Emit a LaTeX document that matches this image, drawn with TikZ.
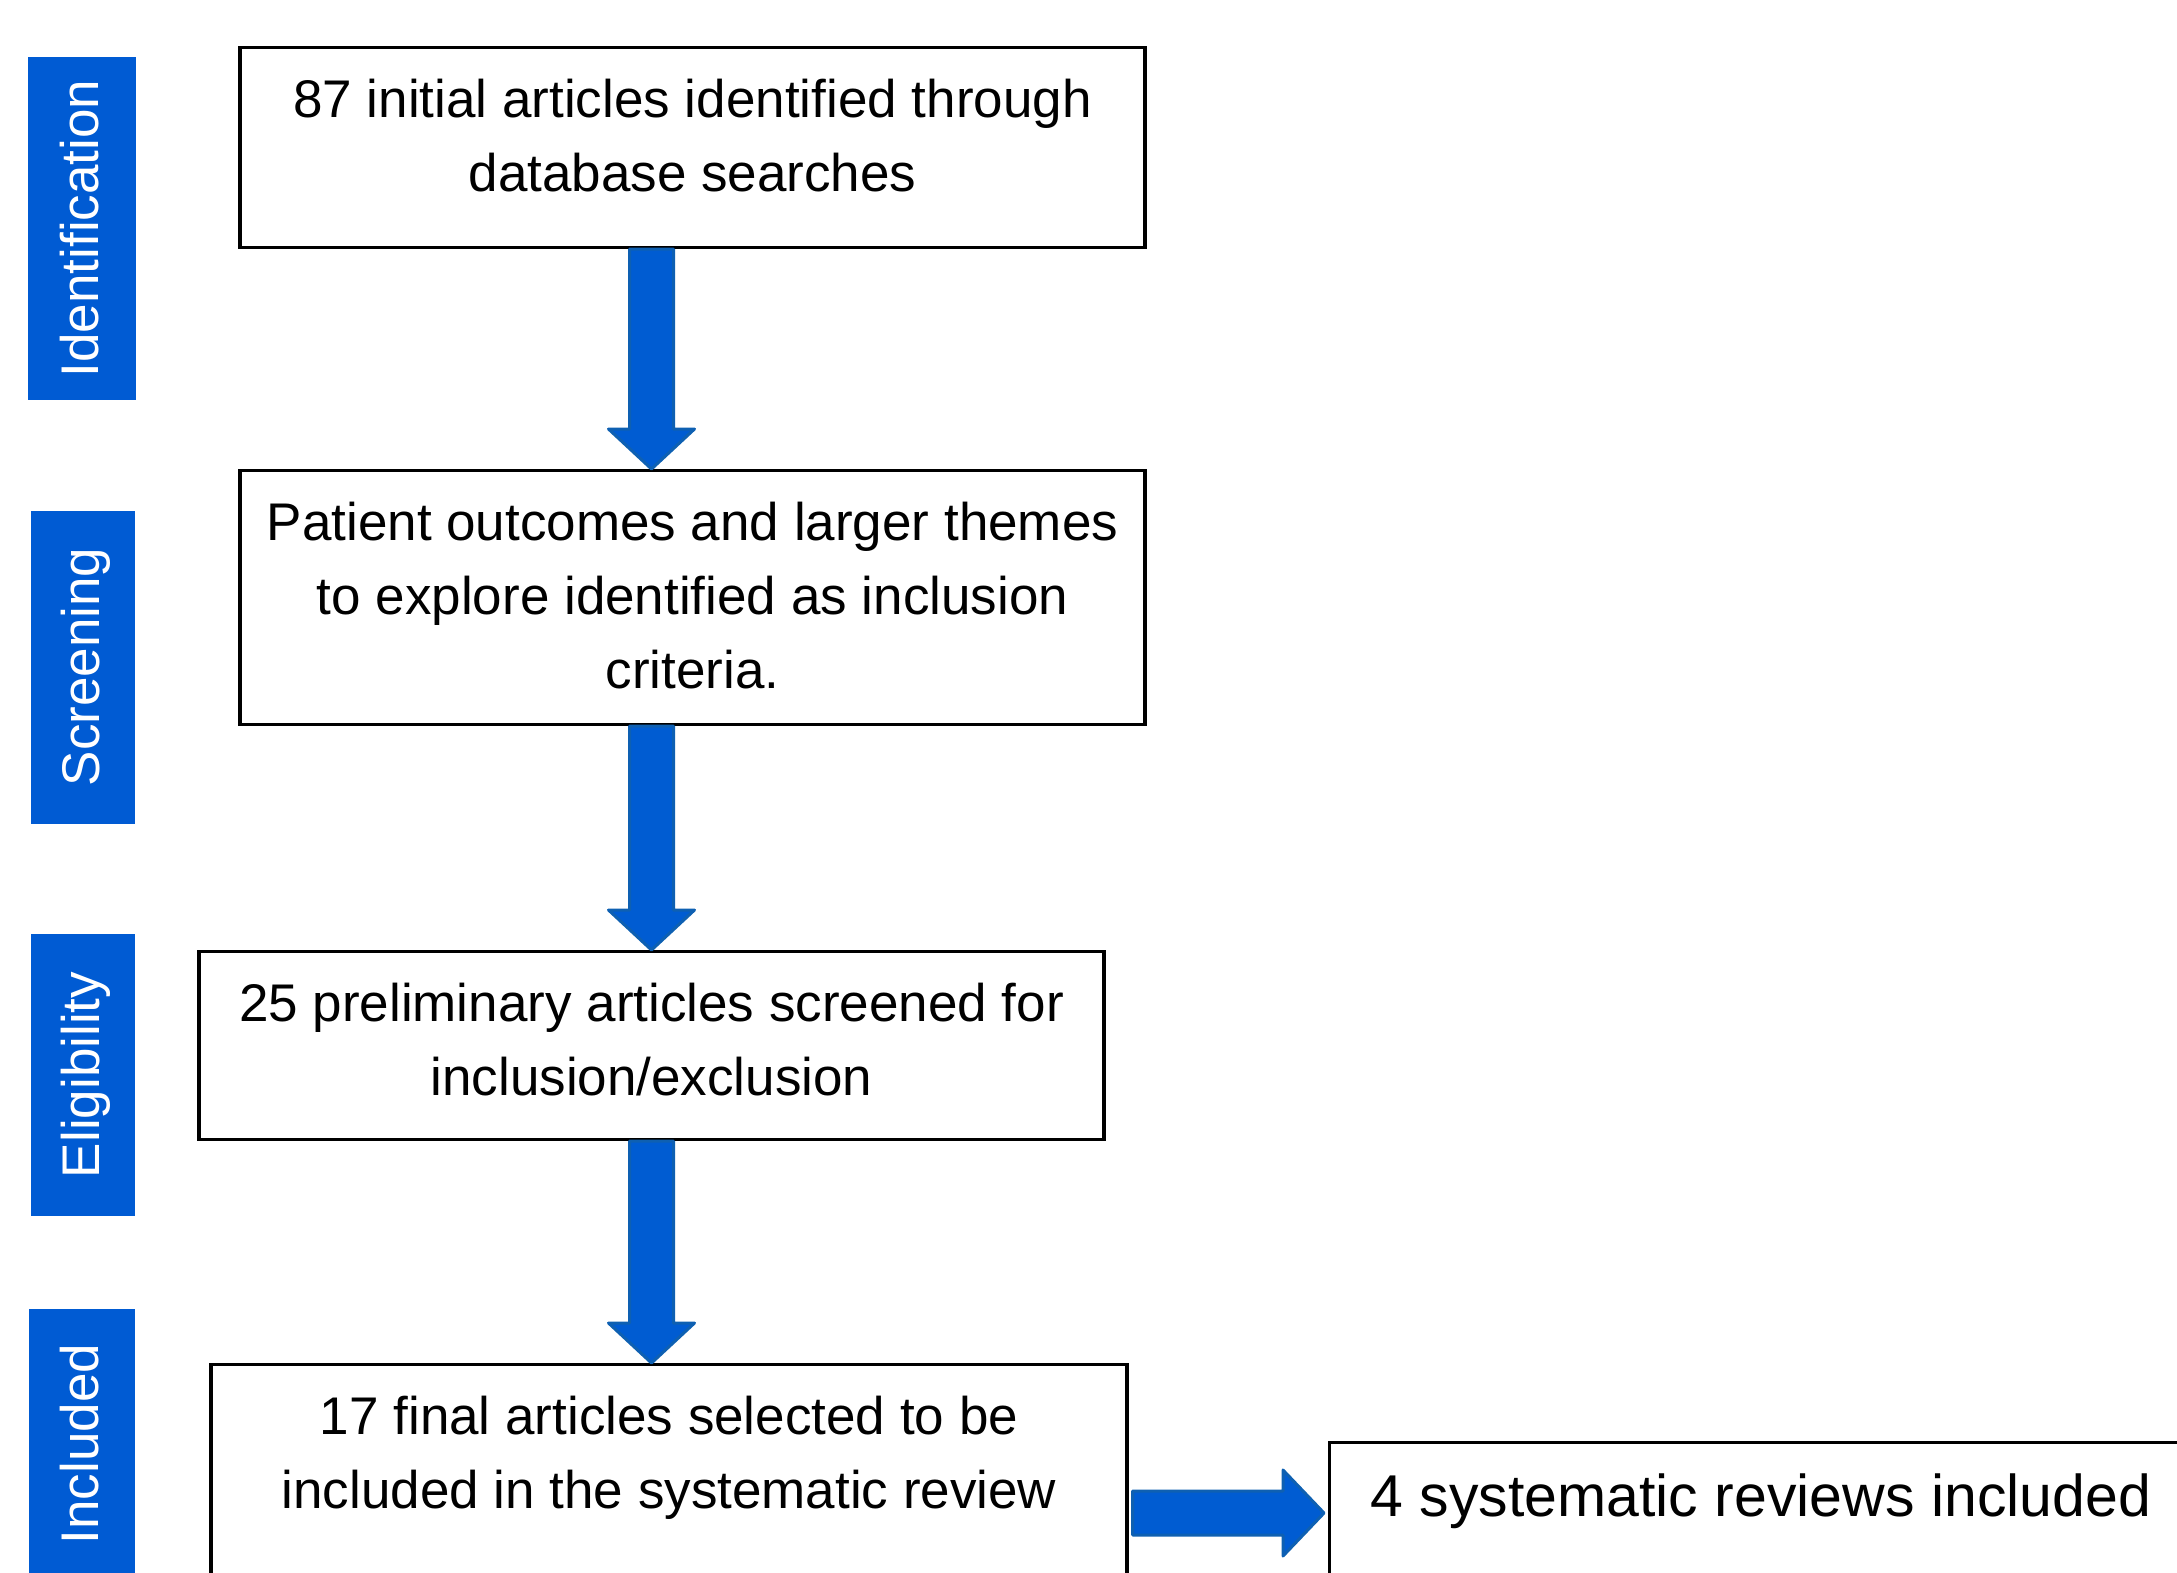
\documentclass[tikz,border=0pt]{standalone}
\usepackage{fontspec}
\setmainfont{Liberation Sans}
\usetikzlibrary{calc}

\definecolor{barblue}{RGB}{0,91,211}
\definecolor{arrowfill}{RGB}{0,92,210}
\definecolor{arrowedge}{RGB}{14,96,178}

\newcommand{\stacklines}[1]{\begin{tabular}[t]{@{}c@{}}#1\end{tabular}}

\tikzset{
  stagebar/.style={fill=barblue, text=white, rotate=90, inner sep=0pt,
    font=\fontsize{53}{64}\selectfont, text height=43pt, text depth=11pt},
  stepbox/.style={draw=black, line width=3.2pt, anchor=north, inner xsep=0pt, inner ysep=0pt,
    font=\fontsize{53}{74}\selectfont, text height=70pt},
  downarrow/.style={fill=arrowfill, draw=arrowedge, line width=3pt, line join=round,
    to path={let \p1=(\tikztostart), \p2=(\tikztotarget) in
      (\x1-22pt,\y1) -- (\x1+22pt,\y1) -- (\x1+22pt,\y2+40pt) -- (\x1+43pt,\y2+40pt)
      -- (\x1,\y2) -- (\x1-43pt,\y2+40pt) -- (\x1-22pt,\y2+40pt) -- cycle}},
  rightarrow/.style={fill=arrowfill, draw=arrowedge, line width=3pt, line join=round,
    to path={let \p1=(\tikztostart), \p2=(\tikztotarget) in
      (\x1,\y1+22pt) -- (\x2-41pt,\y1+22pt) -- (\x2-41pt,\y1+43pt) -- (\x2,\y1)
      -- (\x2-41pt,\y1-43pt) -- (\x2-41pt,\y1-22pt) -- (\x1,\y1-22pt) -- cycle}}
}

\begin{document}
\begin{tikzpicture}[x=1pt,y=-1pt]
% page frame
\useasboundingbox (0,0) rectangle (2177,1572);
\clip (0,0) rectangle (2177,1572);

%stage bars
\node[stagebar, minimum width=343pt, minimum height=108pt] (idbar) at (82,228.5) {Identification};
\node[stagebar, minimum width=313pt, minimum height=104pt] (scrbar) at (83,667) {Screening};
\node[stagebar, minimum width=282pt, minimum height=104pt] (eligbar) at (83,1075) {Eligibility};
\node[stagebar, minimum width=270pt, minimum height=106pt] (inclbar) at (82,1444) {Included};

%boxes
\node[stepbox, minimum width=905pt, text depth=130pt] (ident) at (692.5,46)
  {\stacklines{87 initial articles identified through\\database searches}};
\node[stepbox, minimum width=905pt, text depth=184pt] (screen) at (692.5,469)
  {\stacklines{Patient outcomes and larger themes\\to explore identified as inclusion\\criteria.}};
\node[stepbox, minimum width=905pt, text depth=118pt] (elig) at (651.5,950)
  {\stacklines{25 preliminary articles screened for\\inclusion/exclusion}};
\node[stepbox, minimum width=916pt, text depth=300pt] (incl) at (669,1363)
  {\stacklines{17 final articles selected to be\\included in the systematic review}};
\node[stepbox, anchor=north west, inner xsep=41pt, font=\fontsize{59}{74}\selectfont,
  text height=74pt, text depth=200pt] (reviews) at (1328,1441)
  {4 systematic reviews included};

%arrows
\draw[downarrow] (ident.south -| elig.north) to (screen.north -| elig.north);
\draw[downarrow] (screen.south -| elig.north) to (elig.north);
\draw[downarrow] (elig.south) to (incl.north -| elig.south);

\coordinate (sidetip) at ([xshift=-4pt,yshift=-72pt]reviews.north west);
\draw[rightarrow] ([xshift=4pt]incl.east |- sidetip) to (sidetip);

\end{tikzpicture}
\end{document}
